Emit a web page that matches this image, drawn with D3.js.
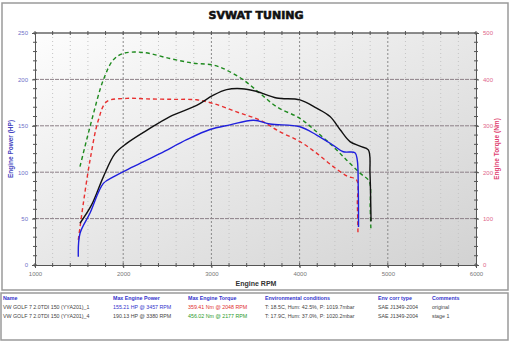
<!DOCTYPE html>
<html><head><meta charset="utf-8">
<script src="https://cdn.jsdelivr.net/npm/d3@7"></script>
<style>body{margin:0;background:#fff;}svg{display:block;}</style>
</head><body>
<script>
// ---- data ----
const stage1PowerRpm = [1510,1643,1775,1907,2040,2266,2530,2833,3022,3173,3343,3513,3740,4004,4193,4345,4458,4571,4685,4779,4798,4805,4810];
const stage1PowerHp  = [45,65,95,120,131,145,160,172,183,189,190,187,180,178,169,160,146,133,128,124,99,74,47];
const origPowerRpm = [1491,1510,1624,1775,1888,2115,2417,2720,2984,3211,3475,3665,4004,4193,4382,4495,4628,4654,4665,4668];
const origPowerHp  = [9,34,56,88,95,106,120,135,146,151,156,152,149,140,129,122,121,113,84,41];
const stage1TorqueRpm = [1510,1643,1775,1888,2001,2228,2530,2795,3022,3173,3362,3551,3740,4004,4193,4382,4534,4685,4790,4800,4808];
const stage1TorqueNm  = [212,312,399,442,456,458,445,435,431,420,399,370,341,316,287,255,226,198,180,126,79];
const origTorqueRpm = [1491,1548,1624,1718,1813,2040,2266,2568,2833,3022,3286,3551,3778,4004,4193,4382,4534,4647,4655,4662];
const origTorqueNm  = [54,133,226,312,352,359,358,357,356,348,330,312,287,266,241,212,192,183,133,68];

const xTicks = [1000,2000,3000,4000,5000,6000];
const powerTicks = [0,50,100,150,200,250];
const torqueTicks = [0,100,200,300,400,500];

const tableHeaders = ["Name","Max Engine Power","Max Engine Torque","Environmental conditions","Env corr type","Comments"];
const rowNames = ["VW GOLF 7 2.0TDI 150 (YYA201)_1","VW GOLF 7 2.0TDI 150 (YYA201)_4"];
const rowPower = ["155.21 HP @ 3457 RPM","190.13 HP @ 3380 RPM"];
const rowTorque = ["359.41 Nm @ 2048 RPM","456.02 Nm @ 2177 RPM"];
const rowEnv = ["T: 18.5C, Hum: 42.5%, P: 1019.7mbar","T: 17.9C, Hum: 37.0%, P: 1020.2mbar"];
const rowCorr = ["SAE J1349-2004","SAE J1349-2004"];
const rowComment = ["original","stage 1"];

// ---- drawing ----
const W=512,H=342;
const svg=d3.select("body").append("svg").attr("width",W).attr("height",H)
  .style("font-family","Arial, 'Liberation Sans', sans-serif");
const defs=svg.append("defs");
const g1=defs.append("linearGradient").attr("id","bg").attr("x1","0").attr("y1","0").attr("x2","1").attr("y2","1");
g1.append("stop").attr("offset","0").attr("stop-color","#fdfdfd");
g1.append("stop").attr("offset","1").attr("stop-color","#d2d2d2");

// frames
svg.append("rect").attr("x",2).attr("y",3).attr("width",506).attr("height",287)
  .attr("fill","#fff").attr("stroke","#9a9a9a").attr("stroke-width",1.5);
svg.append("rect").attr("x",1).attr("y",293).attr("width",507).attr("height",47)
  .attr("fill","#fff").attr("stroke","#9a9a9a").attr("stroke-width",1.5);

const x=d3.scaleLinear().domain([1000,6000]).range([35,476]);
const yP=d3.scaleLinear().domain([0,250]).range([265,33]);
const yT=d3.scaleLinear().domain([0,500]).range([265,33]);

svg.append("rect").attr("x",x(1000)).attr("y",yP(250)).attr("width",x(6000)-x(1000)).attr("height",yP(0)-yP(250)).attr("fill","url(#bg)");

// grid
const grid=svg.append("g");
d3.range(1200,6000,200).forEach(v=>{
  const major = v%1000===0;
  grid.append("line").attr("x1",x(v)).attr("x2",x(v)).attr("y1",yP(250)).attr("y2",yP(0))
    .attr("stroke",major?"#8a8a8a":"#c4c4c4").attr("stroke-width",1)
    .attr("stroke-dasharray",major?"2,2":"1,3");
});
[50,100,150,200].forEach(v=>{
  grid.append("line").attr("x1",x(1000)).attr("x2",x(6000)).attr("y1",yP(v)).attr("y2",yP(v))
    .attr("stroke","#8d8088").attr("stroke-width",1).attr("stroke-dasharray","4,1");
});

// axes
const axL=d3.axisLeft(yP).tickValues(powerTicks).tickSize(3).tickPadding(4).tickFormat(d3.format("d"));
const gL=svg.append("g").attr("transform",`translate(${x(1000)},0)`).call(axL);
gL.selectAll("text").attr("fill","#6f6fc8").style("font-size","6px");
const axR=d3.axisRight(yT).tickValues(torqueTicks).tickSize(3).tickPadding(4).tickFormat(d3.format("d"));
const gR=svg.append("g").attr("transform",`translate(${x(6000)},0)`).call(axR);
gR.selectAll("text").attr("fill","#e0668a").style("font-size","6px");
const axB=d3.axisBottom(x).tickValues(xTicks).tickSize(3).tickPadding(4).tickFormat(d3.format("d"));
const gB=svg.append("g").attr("transform",`translate(0,${yP(0)})`).call(axB);
gB.selectAll("text").attr("fill","#777").style("font-size","6px");
[gL,gR,gB].forEach(g=>{g.select(".domain").attr("stroke","#555");g.selectAll(".tick line").attr("stroke","#555");});
// top border
svg.append("line").attr("x1",x(1000)).attr("x2",x(6000)).attr("y1",yP(250)).attr("y2",yP(250)).attr("stroke","#666").attr("stroke-width",1.5);
// minor ticks
const mt=svg.append("g").attr("stroke","#555");
d3.range(1000,6001,200).forEach(v=>{
  mt.append("line").attr("x1",x(v)).attr("x2",x(v)).attr("y1",yP(0)-2).attr("y2",yP(0)+2);
  mt.append("line").attr("x1",x(v)).attr("x2",x(v)).attr("y1",yP(250)-2).attr("y2",yP(250)+2);
});
d3.range(0,251,10).forEach(v=>{
  mt.append("line").attr("x1",x(1000)-2).attr("x2",x(1000)+2).attr("y1",yP(v)).attr("y2",yP(v));
  mt.append("line").attr("x1",x(6000)-2).attr("x2",x(6000)+2).attr("y1",yP(v)).attr("y2",yP(v));
});

// titles
svg.append("text").attr("x",256).attr("y",19).attr("text-anchor","middle")
  .style("font-family","'DejaVu Sans'").style("font-weight","900").style("font-size","11px")
  .attr("fill","#111").attr("stroke","#111").attr("stroke-width",0.6).text("SVWAT TUNING");
svg.append("text").attr("x",256).attr("y",286).attr("text-anchor","middle")
  .style("font-weight","bold").style("font-size","7px").attr("fill","#333").text("Engine RPM");
svg.append("text").attr("transform",`translate(13,${(yP(0)+yP(250))/2}) rotate(-90)`).attr("text-anchor","middle")
  .style("font-weight","bold").style("font-size","6.5px").attr("fill","#4444c0").text("Engine Power (HP)");
svg.append("text").attr("transform",`translate(499,${(yP(0)+yP(250))/2}) rotate(-90)`).attr("text-anchor","middle")
  .style("font-weight","bold").style("font-size","6.5px").attr("fill","#e04070").text("Engine Torque (Nm)");

// curves
const curve=d3.curveCatmullRom.alpha(0.5);
function draw(rpm,vals,ys,color,dash,w){
  const pts=rpm.map((r,i)=>[x(r),ys(vals[i])]);
  svg.append("path").attr("d",d3.line().curve(curve)(pts)).attr("fill","none")
    .attr("stroke",color).attr("stroke-width",w).attr("stroke-dasharray",dash);
}
draw(stage1TorqueRpm,stage1TorqueNm,yT,"#1e8a1e","4,3",1.4);
draw(origTorqueRpm,origTorqueNm,yT,"#e83030","4,3",1.4);
draw(stage1PowerRpm,stage1PowerHp,yP,"#111111",null,1.4);
draw(origPowerRpm,origPowerHp,yP,"#2020dd",null,1.4);

// table
const cols=[3,113,188,265,378,432];
const t=svg.append("g").style("font-size","5.3px");
tableHeaders.forEach((h,i)=>t.append("text").attr("x",cols[i]).attr("y",300).attr("fill","#3333cc").style("font-weight","bold").text(h));
const rows=[0,1];
rows.forEach(r=>{
  const yy=309+r*9;
  t.append("text").attr("x",cols[0]).attr("y",yy).attr("fill","#444").text(rowNames[r]);
  t.append("text").attr("x",cols[1]).attr("y",yy).attr("fill",r===0?"#3333cc":"#444").text(rowPower[r]);
  t.append("text").attr("x",cols[2]).attr("y",yy).attr("fill",r===0?"#e03030":"#2a9a2a").text(rowTorque[r]);
  t.append("text").attr("x",cols[3]).attr("y",yy).attr("fill","#444").text(rowEnv[r]);
  t.append("text").attr("x",cols[4]).attr("y",yy).attr("fill","#444").text(rowCorr[r]);
  t.append("text").attr("x",cols[5]).attr("y",yy).attr("fill","#444").text(rowComment[r]);
});
</script>
</body></html>
